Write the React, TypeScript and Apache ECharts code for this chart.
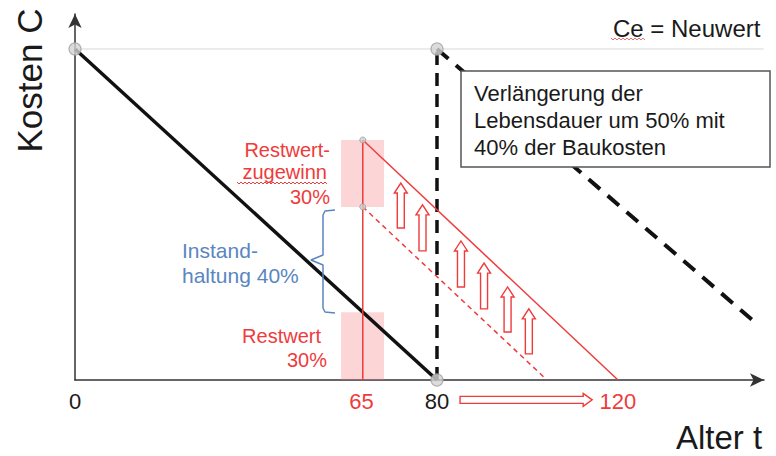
import React, { useEffect, useRef } from "react";
import * as echarts from "echarts";

// ---- data (age t, cost C in % of new value) ----
const newValueLine = [[0, 100], [152.2, 100]];
const baseLine = [[0, 100], [80, 0]];
const endOfLife = [[80, 0], [80, 100]];
const extendedLine = [[80, 100], [151, 16.6]];
const checkAge = [[63.6, 0], [63.6, 72.5]];
const repairedLine = [[63.6, 72.5], [120, 0]];
const previousLine = [[63.6, 52.3], [104.3, 0]];
const bracket = [
  [57.46, 51.36], [55.25, 51.06], [54.81, 49.85], [54.81, 37.76], [52.15, 36.25],
  [54.81, 34.74], [54.81, 21.75], [55.25, 20.54], [57.46, 20.24],
];
const bigPoints = [[0, 100], [80, 100], [80, 0]];
const smallPoints = [[63.6, 72.5], [63.6, 52.3]];
// [x, yBottom, yTop]
const upArrows = [
  [72.0, 45.9, 59.5], [76.8, 39.0, 52.9], [85.3, 28.1, 42.0],
  [90.4, 21.5, 35.3], [95.6, 14.5, 28.1], [100.3, 7.9, 21.5],
];
// [xStart, xEnd, y]
const lifeArrow = [[85.1, 114.3, -6.0]];
const hatchRestwert = [58.8, 68.3, 0, 20.5];
const hatchGain = [58.8, 68.3, 52.3, 72.5];
const tickPositions = [0, 63.3, 80, 120];
const tickLabels = ["0", "65", "80", "120"];
const tickRed = [false, true, false, true];

const RED = "#ef3b3b";
const BLUE = "#5a86c0";
const INK = "#1a1a1a";
const FONT = "'Liberation Sans', Arial, sans-serif";

function wave(x0: number, x1: number, y: number): number[][] {
  const pts: number[][] = [];
  let up = true;
  for (let x = x0; x <= x1; x += 2) {
    pts.push([x, up ? y - 1 : y + 1]);
    up = !up;
  }
  return pts;
}

function txt(text: string, x: number, y: number, size: number, color: string, align = "left", extra: any = {}) {
  return {
    type: "text",
    x,
    y,
    z: 120,
    ...extra,
    style: {
      text,
      fill: color,
      font: `${size}px ${FONT}`,
      textAlign: align,
      textVerticalAlign: "middle",
    },
  };
}

export default function App() {
  const ref = useRef<HTMLDivElement>(null);
  useEffect(() => {
    if (!ref.current) return;
    const chart = echarts.init(ref.current, null, { renderer: "svg" });
    const axisCommon = {
      type: "value",
      axisTick: { show: false },
      axisLabel: { show: false },
      splitLine: { show: false },
      axisLine: {
        show: true,
        onZero: true,
        symbol: ["none", "arrow"],
        symbolSize: [10, 14],
        lineStyle: { color: "#333", width: 1.5 },
      },
    };
    const line = (data: number[][], color: string, width: number, type: any = "solid", z = 3) => ({
      type: "line",
      data,
      symbol: "none",
      silent: true,
      z,
      lineStyle: { color, width, type, cap: "butt" },
    });
    const option: any = {
      animation: false,
      grid: { left: 75, right: 12, top: 14, bottom: 76 },
      xAxis: { ...axisCommon, min: 0, max: 152.27 },
      yAxis: { ...axisCommon, min: 0, max: 110.57 },
      series: [
        {
          ...line(newValueLine, "#d9d9d9", 1, "solid", 1),
          markArea: {
            silent: true,
            itemStyle: { color: "rgba(244,120,120,0.3)" },
            data: [
              [{ xAxis: hatchRestwert[0], yAxis: hatchRestwert[2] }, { xAxis: hatchRestwert[1], yAxis: hatchRestwert[3] }],
              [{ xAxis: hatchGain[0], yAxis: hatchGain[2] }, { xAxis: hatchGain[1], yAxis: hatchGain[3] }],
            ],
          },
        },
        line(baseLine, "#111", 3.5, "solid", 4),
        line(endOfLife, "#111", 3.5, [13, 8], 4),
        line(extendedLine, "#111", 4, [15, 10], 4),
        line(checkAge, RED, 1.5, "solid", 5),
        line(repairedLine, RED, 1.5, "solid", 5),
        line(previousLine, RED, 1.5, [5, 4], 5),
        line(bracket, BLUE, 1.5, "solid", 5),
        {
          type: "custom",
          coordinateSystem: "cartesian2d",
          clip: false,
          z: 6,
          silent: true,
          data: upArrows,
          encode: { x: 0, y: [1, 2] },
          renderItem: (params: any, api: any) => {
            const x = api.value(0);
            const b = api.coord([x, api.value(1)]);
            const t = api.coord([x, api.value(2)]);
            const cx = b[0];
            const bw = 3.5, hw = 6.5, hl = 10;
            return {
              type: "polygon",
              shape: {
                points: [
                  [cx - bw, b[1]], [cx - bw, t[1] + hl], [cx - hw, t[1] + hl], [cx, t[1]],
                  [cx + hw, t[1] + hl], [cx + bw, t[1] + hl], [cx + bw, b[1]],
                ],
              },
              style: { fill: "#fff", stroke: RED, lineWidth: 1.4 },
            };
          },
        },
        {
          type: "custom",
          coordinateSystem: "cartesian2d",
          clip: false,
          z: 6,
          silent: true,
          data: lifeArrow,
          encode: { x: [0, 1], y: 2 },
          renderItem: (params: any, api: any) => {
            const s = api.coord([api.value(0), api.value(2)]);
            const e = api.coord([api.value(1), api.value(2)]);
            const y = s[1];
            const bh = 3.5, hh = 6.5, hl = 9;
            return {
              type: "polygon",
              shape: {
                points: [
                  [s[0], y - bh], [e[0] - hl, y - bh], [e[0] - hl, y - hh], [e[0], y],
                  [e[0] - hl, y + hh], [e[0] - hl, y + bh], [s[0], y + bh],
                ],
              },
              style: { fill: "#fff", stroke: RED, lineWidth: 1.4 },
            };
          },
        },
        {
          type: "scatter",
          data: bigPoints,
          symbolSize: 12,
          z: 8,
          silent: true,
          itemStyle: { color: "#d3d3d3", borderColor: "#a3a3a3", borderWidth: 1.2 },
        },
        {
          type: "scatter",
          data: smallPoints,
          symbolSize: 6,
          z: 8,
          silent: true,
          itemStyle: { color: "#cfcfcf", borderColor: "#999", borderWidth: 1 },
        },
        {
          type: "custom",
          coordinateSystem: "cartesian2d",
          clip: false,
          silent: true,
          z: 9,
          data: tickPositions.map((x) => [x, -6.5]),
          renderItem: (params: any, api: any) => {
            const p = api.coord([api.value(0), api.value(1)]);
            const i = params.dataIndex;
            return {
              type: "text",
              x: p[0],
              y: p[1],
              style: {
                text: tickLabels[i],
                fill: tickRed[i] ? RED : INK,
                font: `22px ${FONT}`,
                textAlign: "center",
                textVerticalAlign: "middle",
              },
            };
          },
        },
      ],
      graphic: [
        txt("Kosten C", 29, 80.5, 35, INK, "center", { rotation: Math.PI / 2 }),
        txt("Alter t", 676, 437.5, 33, INK, "left"),
        txt("Ce = Neuwert", 613, 28, 24, INK, "left"),
        {
          type: "polyline",
          z: 121,
          shape: { points: wave(611, 645, 39) },
          style: { stroke: "#f07070", lineWidth: 1, fill: null },
        },
        {
          type: "rect",
          z: 110,
          shape: { x: 461, y: 71, width: 309, height: 96 },
          style: { fill: "#fff", stroke: "#555", lineWidth: 1.5 },
        },
        txt("Verlängerung der", 474, 93, 22, INK, "left"),
        txt("Lebensdauer um 50% mit", 474, 120, 22, INK, "left"),
        txt("40% der Baukosten", 474, 147, 22, INK, "left"),
        txt("Restwert-", 330, 150, 20, RED, "right"),
        txt("zugewinn", 327, 172, 20, RED, "right"),
        {
          type: "polyline",
          z: 121,
          shape: { points: wave(237, 327, 183) },
          style: { stroke: RED, lineWidth: 1, fill: null },
        },
        txt("30%", 330, 196.5, 20, RED, "right"),
        txt("Instand-", 182, 250.5, 21, BLUE, "left"),
        txt("haltung 40%", 182, 275.5, 21, BLUE, "left"),
        txt("Restwert", 321, 336, 20, RED, "right"),
        txt("30%", 327, 360, 20, RED, "right"),
      ],
    };
    chart.setOption(option);
    return () => chart.dispose();
  }, []);
  return <div ref={ref} style={{ width: 776, height: 456, position: "absolute", left: 0, top: 0, background: "#fff" }} />;
}
